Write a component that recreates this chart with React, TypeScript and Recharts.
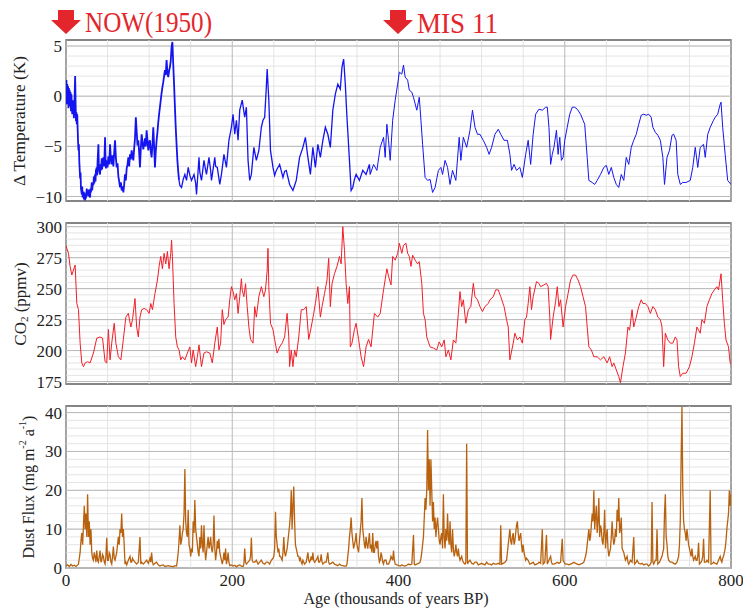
import React from 'react';
import { LineChart, Line, XAxis, YAxis, ReferenceLine, ReferenceArea } from 'recharts';

// ---------- axis ticks / grid values ----------
const ageTicks = [0, 200, 400, 600, 800];
const ageMinor = [50, 100, 150, 250, 300, 350, 450, 500, 550, 650, 700, 750];

const tempTicks = [-10, -5, 0, 5];
const tempMinor = [-10, -9, -8, -7, -6, -5, -4, -3, -2, -1, 0, 1, 2, 3, 4, 5];
const co2Ticks = [175, 200, 225, 250, 275, 300];
const co2Minor = [175, 180, 185, 190, 195, 200, 205, 210, 215, 220, 225, 230, 235, 240, 245, 250, 255, 260, 265, 270, 275, 280, 285, 290, 295, 300];
const dustTicks = [0, 10, 20, 30, 40];
const dustMinor = [0, 2, 4, 6, 8, 10, 12, 14, 16, 18, 20, 22, 24, 26, 28, 30, 32, 34, 36, 38, 40];

// ---------- Δ Temperature (K) : [age kyr BP, value] ----------
const tempRecent: [number, number][] = [
  [0,0.3],[0.5,1.6],[1,-0.8],[1.5,1.2],[2,-0.2],[2.5,1.0],[3,-1.2],[3.5,0.8],[4,-0.5],[4.5,0.6],[5,-1.0],[5.5,0.4],[6,-1.5],[6.5,0.2],[7,-0.7],[7.5,-1.8],[8,-0.4],[8.5,-1.6],[9,-0.9],[9.5,-2.2],[10,-1.0],[10.5,0.4],[11,2.0],[11.5,-0.5],[12,-2.5],[12.5,-1.6],[13,-2.8],[13.5,-1.8],[14,-3.2],[14.5,-4.5],[15,-5.4],[15.5,-4.8],[16,-6.5],[17,-8.2],[17.5,-7.6],[18,-9.2],[19,-9.8],[19.5,-9.0],[20,-10.1],[21,-9.5],[21.5,-10.3],[22,-9.6],[23,-10.4],[23.5,-9.8],[24,-10.2],[25,-9.2],[25.5,-9.9],[26,-9.4],[27,-10.0],[27.5,-9.3],[28,-9.8],[29,-10.1],[29.5,-9.2],[30,-9.6],[31,-8.6],[31.5,-9.4],[32,-8.9],[33,-8.8],[33.5,-8.0],[34,-8.7],[35,-7.8],[35.5,-8.5],[36,-7.4],[37,-7.1],[37.5,-7.9],[38,-6.5],[39,-4.8],[39.5,-6.9],[40,-7.5],[41,-7.8],[41.5,-6.8],[42,-7.4],[43,-6.2],[43.5,-7.3],[44,-6.5],[45,-6.1],[46,-7.0],[46.5,-5.5],[47,-4.1],[47.5,-6.2],[48,-7.2],[49,-6.4],[50,-7.1],[51,-6.0],[52,-6.8],[53,-4.8],[54,-6.3],[55,-6.8],[56,-5.9],[57,-7.0],[58,-5.6],[59,-4.4],[60,-6.1],[61,-7.1],[62,-6.7],[63,-8.0],[64,-8.5],[65,-9.1],[66,-8.6],[67,-9.4],[68,-9.0],[69,-9.6],[70,-8.8],[71,-7.8],[72,-8.4],[73,-7.2],[74,-6.8],[75,-6.1],[76,-7.0],[77,-5.8],[78,-6.3],[79,-5.4],[80,-6.0],[81,-6.4],[82,-5.2],[83,-4.2],[84,-2.1],[85,-3.5],[86,-4.9],[87,-4.4],[88,-5.6],[89,-7.1],[90,-5.2],[91,-3.8],[92,-4.6],[93,-5.3],[94,-4.8],[95,-4.2],[96,-5.0],[97,-3.4],[98,-4.4],[99,-5.4],[100,-4.6],[101,-4.4],[102,-5.5],[103,-6.1],[104,-4.8],[105,-3.1],[106,-5.0],[107,-7.1],[108,-5.5],[109,-4.4],[110,-3.6],[111,-2.6],[112,-1.8],[113,-1.1],[114,-0.4],[115,0.3],[116,0.9],[117,1.4],[118,2.0],[119,2.6],[120,2.1],[121,3.6],[122,2.4],[123,1.9],[124,2.5],[125,2.9],[126,3.5],[127,4.9],[128,5.4],[129,3.2],[130,1.2],[131,-1.0],[132,-3.1],[133,-4.8],[134,-6.4],[135,-7.5],[136,-8.4]
];
const tempMiddle: [number, number][] = [
  [136,-8.4],[137,-8.9],[139,-9.1],[141,-8.3],[143,-7.8],[145,-8.4],[147,-7.1],[149,-7.9],[151,-8.4],[154,-7.8],[156,-8.7],[157,-9.8],[160,-6.1],[161,-7.6],[163,-8.4],[166,-6.4],[168,-7.4],[169,-7.8],[172,-6.1],[174,-7.4],[175,-8.4],[179,-6.1],[180,-7.0],[182,-7.1],[185,-8.8],[187,-7.8],[190,-5.8],[193,-7.1],[196,-4.4],[199,-3.1],[201,-1.8],[203,-3.8],[205,-2.4],[207,-4.4],[209,-1.4],[212,-0.4],[215,-2.1],[217,-1.1],[219,-6.4],[221,-8.4],[223,-7.8],[226,-5.1],[229,-6.4],[232,-5.4],[235,-3.1],[237,-2.4],[239,-2.1],[241,0.9],[242,2.7],[244,-0.4],[246,-5.4],[249,-7.1],[251,-7.9],[253,-7.4],[257,-6.8],[261,-8.1],[263,-7.5],[265,-7.4],[269,-8.8],[273,-9.4],[275,-8.9],[277,-8.4],[281,-6.1],[285,-5.1],[288,-4.1],[291,-6.1],[294,-7.8],[297,-5.1],[300,-7.1],[303,-4.8],[306,-6.1],[309,-4.4],[312,-3.1],[315,-3.8],[318,-5.1],[321,-1.4],[324,0.2],[327,1.2],[330,0.7],[332,2.9],[334,3.7],[336,1.2],[338,-2.1],[341,-6.4],[343,-9.4],[345,-9.1],[347,-8.3],[349,-7.8],[353,-8.4],[357,-7.4],[361,-7.8],[365,-6.8],[366,-7.8]
];
const tempOld: [number, number][] = [
  [366,-7.8],[370,-6.8],[374,-7.4],[378,-5.1],[382,-4.1],[384,-6.1],[386,-2.8],[388,-4.4],[390,-6.4],[393,-2.4],[396,-0.4],[399,1.2],[401,2.4],[404,2.2],[406,3.1],[408,1.9],[411,1.6],[413,0.6],[416,0.4],[418,-0.1],[422,-1.4],[425,-0.1],[427,-2.4],[429,-4.8],[432,-8.1],[435,-8.4],[438,-8.3],[441,-9.6],[444,-9.1],[448,-7.4],[451,-7.1],[453,-7.8],[456,-6.4],[459,-7.1],[462,-8.8],[465,-7.4],[469,-8.4],[473,-4.1],[475,-6.4],[478,-4.1],[482,-5.1],[486,-3.4],[489,-1.4],[492,-3.1],[495,-3.8],[498,-3.8],[502,-4.4],[506,-5.1],[509,-5.8],[512,-5.1],[516,-3.8],[520,-3.3],[523,-3.8],[527,-4.4],[531,-4.4],[534,-5.8],[536,-7.4],[539,-6.8],[542,-7.4],[546,-7.1],[549,-8.1],[553,-5.8],[556,-4.4],[559,-6.8],[562,-3.8],[565,-1.8],[569,-1.3],[573,-1.4],[577,-1.1],[579,-1.1],[581,-3.1],[583,-6.8],[585,-5.8],[587,-5.1],[590,-3.4],[592,-5.8],[594,-4.1],[596,-6.4],[598,-6.1],[600,-4.4],[603,-3.1],[606,-1.8],[609,-1.1],[612,-1.1],[615,-1.3],[619,-1.8],[622,-2.4],[624,-2.8],[627,-6.1],[629,-8.4],[633,-8.6],[636,-8.8],[639,-8.4],[643,-7.8],[647,-7.1],[650,-6.9],[653,-7.8],[656,-7.1],[659,-8.1],[662,-8.8],[665,-9.1],[668,-7.8],[671,-8.4],[674,-6.1],[677,-6.8],[680,-5.1],[683,-4.4],[686,-3.8],[689,-2.8],[692,-1.9],[695,-1.8],[698,-1.9],[701,-1.8],[704,-2.1],[706,-3.1],[709,-3.6],[712,-3.9],[715,-4.4],[718,-6.1],[720,-8.8],[723,-6.1],[726,-5.4],[729,-3.9],[731,-3.8],[734,-4.4],[736,-7.8],[739,-8.8],[742,-8.6],[746,-8.6],[751,-8.4],[754,-7.1],[757,-5.1],[760,-7.1],[763,-5.1],[767,-4.8],[769,-6.1],[772,-3.8],[775,-3.1],[779,-2.4],[781,-2.1],[784,-1.8],[787,-0.8],[788,-0.6],[790,-3.1],[793,-5.8],[796,-8.4],[800,-8.8]
];

// ---------- CO2 (ppmv) ----------
const co2Series: [number, number][] = [
  [0,285],[1,282.5],[3,278.5],[5,267.7],[7,261],[9,265],[11,269],[13,238],[15,233],[17,206],[19,190],[21,187],[23,190],[26,191],[29,190],[33,198],[37,210],[41,211],[44,210],[47,191],[49,190],[51,217],[53,192.5],[55,206],[58,222],[60,206],[63,195],[66,192.5],[69,209],[72,227],[75,230],[78,219],[80,225],[83,242],[85,219],[87,211],[89,227],[91,233],[94,234],[97,233],[100,230],[102,238],[104,233],[107,246],[110,257],[112,268],[114,276],[116,266],[118,278.5],[120,270],[122,280],[124,266],[126,278.5],[127,289],[128,276],[130,238],[132,211],[134,203],[136,200.5],[138,192.5],[140,195],[143,192.5],[146,198],[149,203],[151,190],[153,200.5],[156,187],[158,195],[160,204.6],[163,187],[166,198],[169,199],[173,198],[176,190],[179,206],[182,219],[184,200.5],[186,206],[188,233],[190,221],[192,225],[195,227],[197,241],[199,251.6],[201,247.6],[203,241],[205,246],[207,230],[209,243.5],[211,258],[212,249],[214,243.5],[216,254],[218,235.5],[220,219],[222,209],[225,206],[227,235.5],[229,227],[232,243.5],[235,251.6],[238,243.5],[240,249],[242,265],[243,282.5],[244,251.6],[246,222],[249,217],[251,209],[254,198],[257,203],[260,206],[263,211],[266,230],[268,211],[269,187],[271,200.5],[273,187],[275,200.5],[277,195],[280,211],[283,233],[286,233],[289,235.5],[292,209],[295,219],[298,230],[300,238],[303,251.6],[306,227],[308,235.5],[311,246],[314,257],[316,274.5],[318,235.5],[320,254],[323,262],[326,268],[329,276],[331,270],[333,300],[335,281],[337,254],[339,238],[341,251.6],[342,203],[344,206],[347,217],[349,222],[352,209],[355,195],[358,187],[361,203],[364,209],[367,203],[371,230],[375,227],
  [378,230],[382,249],[386,266],[388,260],[391,253],[393,276],[396,273],[399,278.5],[401,286.6],[404,278.5],[406,285],[409,286.6],[411,278.5],[413,276],[415,268],[417,277],[420,273],[423,270],[425,271.8],[428,254.3],[430,230],[432,225],[434,211],[438,203],[442,202],[446,200.5],[449,207],[452,203],[455,208.6],[457,195],[460,200.5],[463,192.5],[466,208.6],[469,206],[472,230],[474,247.6],[476,235.5],[478,241],[481,222],[484,233],[487,235.5],[490,254.3],[492,243.5],[495,241],[498,235.5],[501,231.5],[504,235.5],[508,238],[510,241],[514,243.5],[517,249],[520,249],[523,243.5],[527,235.5],[530,225],[532,219],[534,192.5],[538,206],[540,214],[543,208.6],[546,211],[549,206],[552,225],[554,227],[556,238],[558,251.6],[560,233],[562,243.5],[566,255.6],[569,254.3],[571,251.6],[575,253],[578,254.3],[580,251.6],[582,227],[583,209],[586,227],[589,239.5],[591,251.6],[593,235.5],[595,241],[598,219],[601,235.5],[604,246],[607,257],[610,261],[613,261],[616,257],[619,251.6],[622,243.5],[625,235.5],[627,219],[629,203],[632,200.5],[635,195],[639,195],[643,192.5],[647,195],[651,190],[654,195],[657,187],[659,190],[662,184.4],[665,179],[667,174],[670,187],[673,198],[676,219],[678,216.4],[681,233],[683,219],[686,227],[689,235.5],[692,241],[694,238],[697,238],[700,235.5],[703,230],[706,235.5],[709,233],[712,227],[715,225],[717,219],[719,187],[721,214],[724,208.6],[727,206],[730,206],[733,211],[735,208.6],[737,187],[739,179],[742,181.7],[746,181.7],[750,187],[753,195],[756,206],[759,219],[763,214],[765,225],[768,222],[771,235.5],[774,241],[777,246],[780,249],[783,251.6],[785,249],[788,262],[790,241],[792,222],[794,208.6],[797,203],[799,190],[800,189]
];

// ---------- Dust flux (mg m-2 a-1) ----------
const dustSeries: [number, number][] = [
  [0,0.5],[2,0.8],[4,0.4],[6,0.9],[8,0.5],[10,0.7],[12,0.4],[14,0.8],[15,1],[16,2.5],[17,4],[18,7],[19,9],[20,6],[21,11],[22,16],[23,10],[24,14],[25,8],[26,19],[27,8],[28,12],[29,6],[30,10],[31,4],[32,2.5],[33,2],[34,4],[35,3],[36,1.5],[37,4.5],[38,2],[39,1.5],[40,3],[41,4.5],[42,1.5],[43,2],[44,3.5],[45,3],[46,1.5],[47,1],[48,3],[49,7.8],[50,2],[51,2],[52,4],[53,3.5],[54,1.5],[55,1],[56,3],[57,5.5],[58,2.5],[59,2],[60,3],[61,4],[62,6],[63,8],[64,6],[65,10],[66,9],[67,14],[68,8],[69,10],[70,6],[71,1],[72,1.5],[73,0.8],[75,2],[77,3],[78,1.5],[79,1.5],[80,2.5],[81,2],[83,1.5],[85,1],[87,1.5],[89,8],[90,1],[91,1.5],[93,1],[95,1.5],[97,2],[99,1.2],[101,2.5],[102,1.5],[103,4],[104,1.5],[105,0.8],[107,1.2],[109,1.5],[111,0.8],[113,0.5],[115,0.7],[117,0.8],[119,0.4],[121,0.5],[123,0.6],[125,0.5],[127,0.4],[129,0.3],[131,0.6],[133,0.5],[134,2],[135,4],[136,7],[137,11],[138,6],[139,7],[140,9],[141,10],[142,14],[143,25.5],[144,12],[145,9],[146,8],[147,15],[148,6],[149,5],[150,3],[151,5],[152,4],[153,12],[154,9],[155,17.5],[156,10],[157,8],[158,6],[159,4],[160,3],[161,8],[162,5],[163,11],[164,6],[165,4],[166,11],[167,5],[168,2],[169,4],[170,6],[171,8],[172,5],[173,6],[174,8],[175,5],[176,4],[177,6],[178,13.5],[179,5],[180,2],[181,4],[182,7],[183,5],[184,7.5],[185,4],[186,3],[187,2],[188,1],[189,2],[190,4],[191,2],[192,5],[193,1],[194,2],[195,4],[196,1.5],[197,0.6],[199,0.8],[201,0.5],[203,0.7],[205,0.3],[207,0.6],[209,0.8],[211,0.5],[213,0.4],[214,1],[215,5],[216,1.5],[217,1],[219,1.5],[221,2],[222,3],[223,7.8],[224,2],[225,1.5],[227,1.5],[229,2],[231,1],[233,1.5],[235,2],[237,1.2],[239,1],[241,1.5],[243,1.5],[245,1],[247,2],[249,2.5],[250,3],[251,5],[252,14.5],[253,8],[254,6],[255,4],[256,5],[257,3],[258,3],[259,2.5],[260,2],[261,4],[262,8],[263,4],[264,3],[265,4],[266,5],[267,7],[268,9],[269,11],[270,14],[271,20],[272,10],[273,16],[274,21],[275,12],[276,6],[277,5],[278,4],[279,3],[280,3],[281,2],[282,2.5],[283,1.5],[284,1],[285,2],[286,1.5],[287,1],[289,1.5],[291,4],[292,2],[293,1.5],[294,2],[295,3],[296,2],[297,4],[298,2],[299,1.5],[301,2],[303,3],[304,1.5],[305,1.5],[306,2],[307,3.5],[308,1.5],[309,1],[311,1.5],[313,1.5],[315,4],[316,1.5],[317,1],[319,1.2],[321,1.5],[323,1],[325,0.8],[327,0.6],[329,1],[331,0.7],[333,0.6],[335,0.5],[337,0.5],[338,1],[339,3],[340,5],[341,8],[342,10],[343,13],[344,9],[345,7],[346,5],[347,6],[348,7],[349,9],[350,6],[351,5],[352,4],[353,7],[354,9.5],[355,12],[356,18],[357,10],[358,8],[359,6],[360,5],[361,8],[362,6],[363,5],[364,7],[365,9],[366,5],[367,6],[368,4],[369,9],[370,4],[371,4],[372,6],[373,7],[374,5],[375,7],[376,3],[377,1.5],[378,2],[379,4],[380,3],[381,1.5],[382,1],[383,2],[385,2],[386,1],[388,1],[390,2],[391,3],[393,2],[394,4.5],[395,2],[396,1],[398,0.8],[400,0.7],[402,0.5],[404,0.8],[406,0.6],[408,0.5],[410,0.7],[412,1],[414,0.8],[416,1],[418,8.5],[419,1],[420,0.8],[422,1],[424,1.2],[426,1.5],[427,2.5],[428,4],[429,6],[430,8],[431,13],[432,18],[433,15],[434,20],[435,35.5],[436,20],[437,28],[438,16],[439,28],[440,20],[441,12],[442,17],[443,10],[444,13],[445,8],[446,11],[447,13],[448,10],[449,7],[450,6],[451,8],[452,9],[453,5],[454,19],[455,8],[456,5],[457,10],[458,7],[459,14],[460,8],[461,6],[462,12],[463,6],[464,4],[465,10],[466,5],[467,3],[468,4],[469,6],[470,4],[471,3],[472,5],[473,3],[474,2],[475,2.5],[476,3],[477,2],[478,1.5],[479,1.2],[480,1],[481,1.5],[482,32],[483,1],[484,1.5],[486,2],[488,1.2],[490,1],[492,1.5],[494,1.5],[496,0.8],[498,1],[500,1.2],[502,1],[504,0.8],[506,1.5],[508,1],[510,1],[512,0.8],[514,1.2],[516,1],[518,1],[520,1.2],[522,1],[523,11],[524,1],[526,1.2],[528,1.5],[530,2],[531,4],[532,6],[533,8],[534,10],[535,7],[536,6],[537,8],[538,9],[539,6],[540,7],[541,9],[542,11],[543,12],[544,9],[545,7],[546,8],[547,9],[548,6],[549,4],[550,6],[551,4],[552,3],[553,2],[554,2.5],[556,2],[557,1.5],[558,1],[560,1.2],[562,1.5],[564,0.8],[566,1],[568,1.2],[569,1.5],[571,1.2],[573,10],[574,1],[576,1.5],[578,8.5],[579,1],[581,2],[583,3],[584,1.5],[585,1],[587,1],[589,1.2],[591,1.5],[593,1.2],[595,1.5],[597,7.5],[598,2],[600,1.2],[601,1],[603,1],[605,0.8],[607,1],[609,1.2],[611,1.5],[613,1.2],[615,1],[617,0.8],[619,1],[621,1.2],[623,1.5],[625,3],[626,4],[627,6],[628,8],[629,10],[630,7],[631,8],[632,11],[633,14],[634,12],[635,20],[636,10],[637,13],[638,16],[639,9],[640,12],[641,18],[642,8],[643,11],[644,10],[645,7],[646,6],[647,9],[648,15],[649,5],[650,8],[651,10],[652,5],[653,3],[654,4],[655,5],[656,8],[657,12],[658,8],[659,6],[660,7],[661,10],[662,8],[663,15],[664,12],[665,18],[666,9],[667,10],[668,13],[669,5],[670,4.5],[671,4],[672,3],[673,2],[674,2.5],[675,3],[676,1.5],[677,1],[678,1.5],[679,2],[681,1.5],[683,8],[684,1],[686,1.5],[687,2],[689,1.2],[691,1],[693,1.2],[695,0.8],[697,1],[699,1],[701,0.5],[703,1],[704,1.5],[705,17],[706,1.5],[707,1],[709,2],[710,2],[711,10],[712,1],[714,1.5],[715,2],[717,3],[718,4],[719,5],[720,14],[721,19],[722,8],[723,6],[724,3],[725,2],[727,1.5],[729,1.5],[731,1.2],[733,1],[735,1.5],[737,3],[738,6],[739,12],[740,28],[741,41.5],[742,20],[743,12],[744,10],[745,9],[746,7],[747,10],[748,8],[749,6],[750,5],[751,4],[752,3],[753,5],[754,3],[755,2],[756,2.5],[757,3],[758,2],[759,2],[760,3],[761,6.5],[762,1],[764,1.5],[765,2],[766,3],[767,7.5],[768,1.5],[770,1.5],[771,2],[773,1.5],[775,20],[776,1],[778,1.2],[779,1.5],[781,1.2],[783,1],[784,1.5],[785,2],[786,2.5],[787,3],[788,2],[789,1.5],[790,2.5],[791,3],[792,4],[793,5],[794,7],[795,10],[796,12],[797,14],[798,20],[799,16],[800,19]
];

const rows = (pairs: [number, number][]) => pairs.map(([age, v]) => ({ age, v }));

const TEMP_COLOR = '#1414f0';
const CO2_COLOR = '#f21e28';
const DUST_COLOR = '#b8620f';
const RED = '#e3262c';
const GRID_MINOR = '#e4e4e4';
const GRID_MAJOR = '#b9b9b9';
const FRAME = '#5e5e5e';
const SERIF = "'Liberation Serif', 'DejaVu Serif', serif";

const minusFmt = (v: number) => String(v).replace('-', '\u2212');

type PanelProps = {
  top: number;
  height: number;
  margin: { top: number; right: number; bottom: number; left: number };
  yDomain: [number, number];
  yTicks: number[];
  yMinor: number[];
  showX?: boolean;
  children?: React.ReactNode;
};

function Panel({ top, height, margin, yDomain, yTicks, yMinor, showX, children }: PanelProps) {
  return (
    <div style={{ position: 'absolute', left: 0, top, width: 743, height }}>
      <LineChart width={743} height={height} margin={margin}>
        <XAxis
          type="number"
          dataKey="age"
          domain={[0, 800]}
          ticks={ageTicks}
          allowDataOverflow
          hide={!showX}
          height={24}
          axisLine={false}
          tickLine={false}
          tickSize={0}
          tickMargin={6}
          interval={0}
          tick={{ fontFamily: SERIF, fontSize: 17, fill: '#222' }}
        />
        <YAxis
          type="number"
          domain={yDomain}
          ticks={yTicks}
          allowDataOverflow
          width={66}
          axisLine={false}
          tickLine={false}
          tickSize={0}
          tickMargin={4}
          interval={0}
          tickFormatter={minusFmt}
          tick={{ fontFamily: SERIF, fontSize: 17, fill: '#222' }}
        />
        {ageMinor.map((a) => (
          <ReferenceLine key={'vm' + a} x={a} stroke={GRID_MINOR} strokeWidth={1} />
        ))}
        {yMinor.map((y) => (
          <ReferenceLine key={'hm' + y} y={y} stroke={GRID_MINOR} strokeWidth={1} />
        ))}
        {ageTicks.map((a) => (
          <ReferenceLine key={'vM' + a} x={a} stroke={GRID_MAJOR} strokeWidth={1} />
        ))}
        {yTicks.map((y) => (
          <ReferenceLine key={'hM' + y} y={y} stroke={GRID_MAJOR} strokeWidth={1} />
        ))}
        {children}
        <ReferenceArea
          x1={0}
          x2={800}
          y1={yDomain[0]}
          y2={yDomain[1]}
          fill="none"
          fillOpacity={0}
          stroke={FRAME}
          strokeWidth={1.4}
          ifOverflow="visible"
        />
      </LineChart>
    </div>
  );
}

function Arrow({ cx }: { cx: number }) {
  const d = `M${cx - 8},10 L${cx + 8},10 L${cx + 8},20 L${cx + 15},20 L${cx},34 L${cx - 15},20 L${cx - 8},20 Z`;
  return <path d={d} fill={RED} />;
}

export default function App() {
  return (
    <div style={{ position: 'absolute', left: 0, top: 0, width: 743, height: 614, background: '#fff', overflow: 'hidden' }}>
      <Panel top={0} height={212} margin={{ top: 40, right: 12, bottom: 11, left: 0 }} yDomain={[-10.45, 5.6]} yTicks={tempTicks} yMinor={tempMinor}>
        <Line data={rows(tempRecent)} dataKey="v" type="linear" stroke={TEMP_COLOR} strokeWidth={1.8} dot={false} isAnimationActive={false} />
        <Line data={rows(tempMiddle)} dataKey="v" type="linear" stroke={TEMP_COLOR} strokeWidth={1.3} dot={false} isAnimationActive={false} />
        <Line data={rows(tempOld)} dataKey="v" type="linear" stroke={TEMP_COLOR} strokeWidth={1} dot={false} isAnimationActive={false} />
      </Panel>
      <Panel top={210} height={186} margin={{ top: 13, right: 12, bottom: 12, left: 0 }} yDomain={[173, 303]} yTicks={co2Ticks} yMinor={co2Minor}>
        <Line data={rows(co2Series)} dataKey="v" type="linear" stroke={CO2_COLOR} strokeWidth={1} dot={false} isAnimationActive={false} />
      </Panel>
      <Panel top={395} height={219} margin={{ top: 11, right: 12, bottom: 22, left: 0 }} yDomain={[0, 41.7]} yTicks={dustTicks} yMinor={dustMinor} showX>
        <Line data={rows(dustSeries)} dataKey="v" type="linear" stroke={DUST_COLOR} strokeWidth={1.3} dot={false} isAnimationActive={false} />
      </Panel>

      <svg width={743} height={614} style={{ position: 'absolute', left: 0, top: 0, pointerEvents: 'none' }}>
        <Arrow cx={66} />
        <text x={85} y={32} fontFamily={SERIF} fontSize={29} fill={RED} textLength={127} lengthAdjust="spacingAndGlyphs">NOW(1950)</text>
        <Arrow cx={398} />
        <text x={417} y={33} fontFamily={SERIF} fontSize={29} fill={RED} textLength={81} lengthAdjust="spacingAndGlyphs">MIS 11</text>

        <text transform="translate(19,121) rotate(-90)" textAnchor="middle" dominantBaseline="central" fontFamily={SERIF} fontSize={17} fill="#222" textLength={130} lengthAdjust="spacingAndGlyphs">Δ Temperature (K)</text>
        <text transform="translate(20,304) rotate(-90)" textAnchor="middle" dominantBaseline="central" fontFamily={SERIF} fontSize={17} fill="#222">
          CO<tspan fontSize={11} dy={4}>2</tspan><tspan dy={-4}> (ppmv)</tspan>
        </text>
        <text transform="translate(28,487) rotate(-90)" textAnchor="middle" dominantBaseline="central" fontFamily={SERIF} fontSize={16} fill="#222">
          Dust Flux (mg m<tspan fontSize={10} dy={-6}>-2</tspan><tspan dy={6}> a</tspan><tspan fontSize={10} dy={-6}>-1</tspan><tspan dy={6}>)</tspan>
        </text>
        <text x={396} y={604} textAnchor="middle" fontFamily={SERIF} fontSize={16} fill="#222" textLength={185} lengthAdjust="spacingAndGlyphs">Age (thousands of years BP)</text>
      </svg>
    </div>
  );
}
